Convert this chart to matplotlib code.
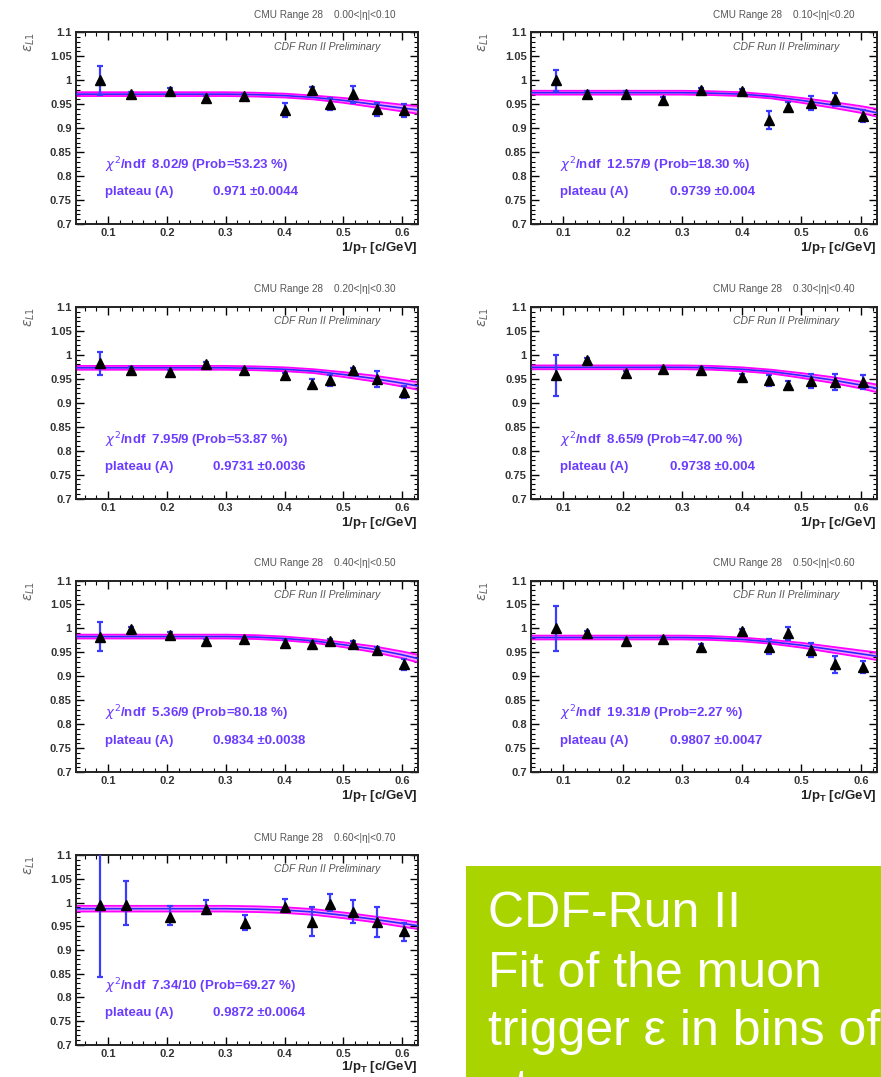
import matplotlib
matplotlib.use("Agg")
import matplotlib.pyplot as plt
from matplotlib.ticker import MultipleLocator
import numpy as np

plt.rcParams['font.family'] = ['Liberation Sans', 'DejaVu Sans']

# 1/pT bin centres
x_pts = [0.087, 0.139, 0.205, 0.267, 0.331, 0.400, 0.446, 0.478, 0.516, 0.557, 0.603]
x_pts_last = [0.087, 0.130, 0.206, 0.267, 0.332, 0.401, 0.446, 0.478, 0.516, 0.557, 0.603]

eta_bins = ['0.00<|η|<0.10', '0.10<|η|<0.20', '0.20<|η|<0.30', '0.30<|η|<0.40',
            '0.40<|η|<0.50', '0.50<|η|<0.60', '0.60<|η|<0.70']

eff_1 = [1.000, 0.971, 0.978, 0.962, 0.967, 0.938, 0.979, 0.950, 0.971, 0.939, 0.937]
eff_2 = [1.000, 0.972, 0.972, 0.959, 0.979, 0.977, 0.917, 0.945, 0.952, 0.960, 0.925]
eff_3 = [0.983, 0.969, 0.964, 0.980, 0.968, 0.957, 0.940, 0.947, 0.968, 0.950, 0.923]
eff_4 = [0.957, 0.989, 0.962, 0.970, 0.969, 0.954, 0.947, 0.937, 0.945, 0.943, 0.943]
eff_5 = [0.983, 0.999, 0.987, 0.973, 0.978, 0.969, 0.967, 0.973, 0.967, 0.955, 0.925]
eff_6 = [1.000, 0.990, 0.974, 0.978, 0.962, 0.994, 0.962, 0.990, 0.955, 0.925, 0.920]
eff_7 = [0.995, 0.995, 0.970, 0.987, 0.956, 0.990, 0.959, 0.997, 0.980, 0.959, 0.939]

err_1 = [0.030, 0.005, 0.005, 0.005, 0.005, 0.015, 0.006, 0.013, 0.018, 0.014, 0.013]
err_2 = [0.022, 0.005, 0.005, 0.005, 0.005, 0.005, 0.019, 0.010, 0.015, 0.014, 0.012]
err_3 = [0.024, 0.005, 0.005, 0.005, 0.005, 0.006, 0.010, 0.012, 0.005, 0.016, 0.012]
err_4 = [0.042, 0.005, 0.005, 0.005, 0.005, 0.006, 0.012, 0.009, 0.015, 0.017, 0.014]
err_5 = [0.030, 0.005, 0.005, 0.005, 0.005, 0.006, 0.006, 0.005, 0.006, 0.006, 0.012]
err_6 = [0.047, 0.005, 0.005, 0.005, 0.005, 0.005, 0.016, 0.014, 0.014, 0.018, 0.013]
err_7_lo = [0.152, 0.043, 0.017, 0.011, 0.014, 0.010, 0.030, 0.015, 0.024, 0.031, 0.021]
err_7_hi = [0.120, 0.050, 0.022, 0.018, 0.018, 0.017, 0.031, 0.020, 0.025, 0.031, 0.017]

fit_x = [0.045, 0.30, 0.35, 0.40, 0.45, 0.50, 0.55, 0.60, 0.627]
fit_1 = [0.971, 0.971, 0.970, 0.968, 0.964, 0.958, 0.950, 0.942, 0.938]
fit_2 = [0.974, 0.974, 0.973, 0.971, 0.966, 0.958, 0.949, 0.939, 0.932]
fit_3 = [0.973, 0.973, 0.972, 0.970, 0.966, 0.959, 0.951, 0.941, 0.935]
fit_4 = [0.974, 0.974, 0.973, 0.970, 0.965, 0.957, 0.948, 0.937, 0.930]
fit_5 = [0.983, 0.983, 0.982, 0.979, 0.974, 0.966, 0.957, 0.945, 0.937]
fit_6 = [0.981, 0.981, 0.980, 0.977, 0.972, 0.965, 0.956, 0.947, 0.942]
fit_7 = [0.987, 0.987, 0.986, 0.984, 0.980, 0.973, 0.965, 0.956, 0.951]
band_w = [0.004, 0.004, 0.004, 0.004, 0.004, 0.005, 0.006, 0.007, 0.008]
band_w7 = [0.006, 0.006, 0.006, 0.006, 0.006, 0.006, 0.006, 0.007, 0.007]

chi2_txt = ['8.02/9 (Prob=53.23 %)', '12.57/9 (Prob=18.30 %)', '7.95/9 (Prob=53.87 %)',
            '8.65/9 (Prob=47.00 %)', '5.36/9 (Prob=80.18 %)', '19.31/9 (Prob=2.27 %)',
            '7.34/10 (Prob=69.27 %)']
plateau_txt = ['0.971 ±0.0044', '0.9739 ±0.004', '0.9731 ±0.0036', '0.9738 ±0.004',
               '0.9834 ±0.0038', '0.9807 ±0.0047', '0.9872 ±0.0064']

box_lines = ['CDF-Run II', 'Fit of the muon', 'trigger ε in bins of', 'pt']

effs = [eff_1, eff_2, eff_3, eff_4, eff_5, eff_6, eff_7]
errs = [(err_1, err_1), (err_2, err_2), (err_3, err_3), (err_4, err_4),
        (err_5, err_5), (err_6, err_6), (err_7_lo, err_7_hi)]
fits = [fit_1, fit_2, fit_3, fit_4, fit_5, fit_6, fit_7]

fig = plt.figure(figsize=(8.81, 10.77), dpi=100)

col_x = [(0.0863, 0.3882), (0.6027, 0.3927)]
row_y = [0.792, 0.537, 0.283, 0.030]
h = 0.178

txt_col = '#6b3cff'
for i in range(7):
    r, c = divmod(i, 2)
    x0, w = col_x[c]
    hh = 0.176 if i == 6 else h
    ax = fig.add_axes([x0, row_y[r], w, hh])
    xs = x_pts_last if i == 6 else x_pts
    bw = band_w7 if i == 6 else band_w
    f = np.array(fits[i])
    b = np.array(bw)
    ax.fill_between(fit_x, f - b, f + b, color='#ff9cff', lw=0, zorder=1)
    ax.plot(fit_x, f - b, color='#ff00ff', lw=1.3, zorder=2)
    ax.plot(fit_x, f + b, color='#ff00ff', lw=1.3, zorder=2)
    ax.plot(fit_x, f, color='#2a2aff', lw=1.2, zorder=3)
    ax.errorbar(xs, effs[i], yerr=[errs[i][0], errs[i][1]], fmt='none',
                ecolor='#3b3bff', elinewidth=1.6, capsize=2.5, capthick=1.6, zorder=4)
    ax.plot(xs, effs[i], '^', color='black', ms=7, zorder=5)

    ax.set_xlim(0.0456, 0.627)
    ax.set_ylim(0.7, 1.1)
    ax.xaxis.set_major_locator(MultipleLocator(0.1))
    ax.xaxis.set_minor_locator(MultipleLocator(0.02))
    ax.yaxis.set_minor_locator(MultipleLocator(0.01))
    ax.set_yticks([0.7, 0.75, 0.8, 0.85, 0.9, 0.95, 1.0, 1.05, 1.1])
    ax.set_yticklabels(['0.7', '0.75', '0.8', '0.85', '0.9', '0.95', '1', '1.05', '1.1'])
    ax.tick_params(which='both', direction='in', top=True, right=True,
                   labelsize=8, labelcolor='#333333', pad=3)
    ax.tick_params(which='major', length=6, width=1)
    ax.tick_params(which='minor', length=3, width=0.8)
    for lab in ax.get_xticklabels() + ax.get_yticklabels():
        lab.set_fontweight('bold')
    for s in ax.spines.values():
        s.set_linewidth(1.4)
        s.set_color('#222222')

    xl_y = -0.118 if i == 6 else -0.126
    ax.text(1.0, xl_y, r'1/p$_\mathregular{T}$ [c/GeV]', transform=ax.transAxes,
            ha='right', va='center', fontsize=9.5, fontweight='bold', color='#222222')
    ax.text(-0.135, 1.0, r'$\varepsilon_{L1}$', transform=ax.transAxes, rotation=90,
            ha='center', va='top', fontsize=10, color='#666666')
    ax.text(0.935, 1.092, 'CMU Range 28    ' + eta_bins[i], transform=ax.transAxes,
            ha='right', va='center', fontsize=7.2, color='#555555')
    ax.text(0.89, 0.925, 'CDF Run II Preliminary', transform=ax.transAxes,
            ha='right', va='center', fontsize=7.5, style='italic', color='#555555')
    ax.text(0.095, 0.823, r'$\chi^2$/ndf  ' + chi2_txt[i], fontsize=9.5,
            fontweight='bold', color=txt_col, va='center')
    ax.text(0.095, 0.766, 'plateau (A)', fontsize=9.5, fontweight='bold',
            color=txt_col, va='center')
    ax.text(0.279, 0.766, plateau_txt[i], fontsize=9.5, fontweight='bold',
            color=txt_col, va='center')

box = fig.add_axes([0.529, 0.0, 0.471, 0.196])
box.set_facecolor('#aad400')
box.set_xticks([])
box.set_yticks([])
for s in box.spines.values():
    s.set_visible(False)
baselines = [927, 987, 1045, 1104]
for line, yb in zip(box_lines, baselines):
    fig.text(0.554, 1 - yb / 1077, line, fontsize=36, color='white',
             va='baseline', ha='left')

fig.savefig('out.png', dpi=100)
